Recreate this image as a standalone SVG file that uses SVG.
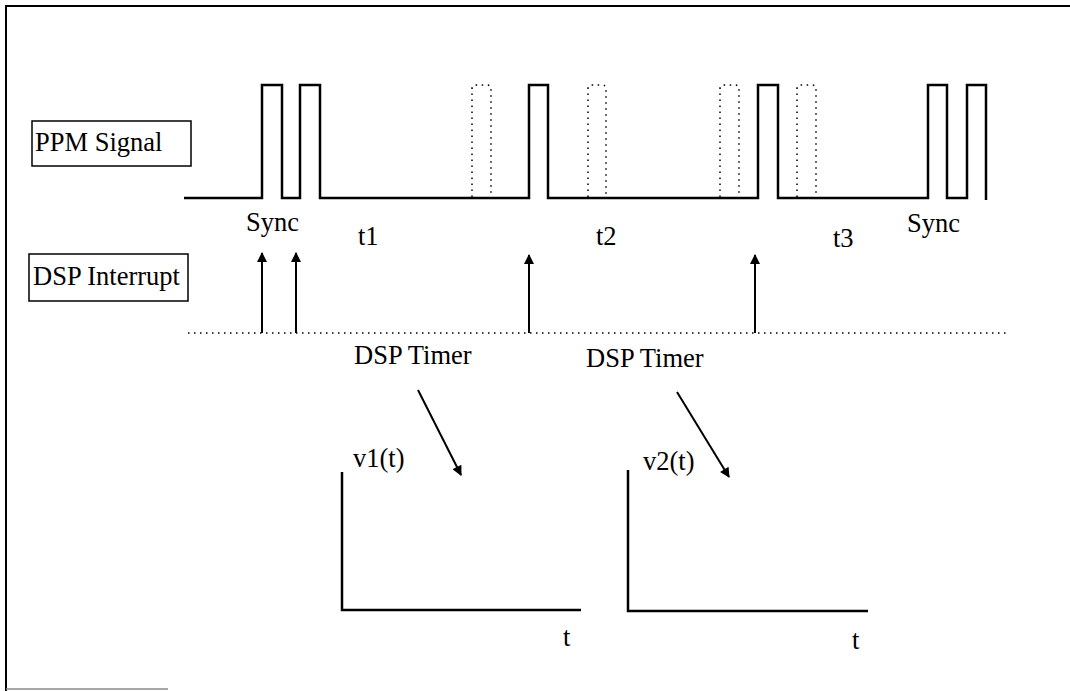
<svg xmlns="http://www.w3.org/2000/svg" width="1070" height="691" viewBox="0 0 1070 691">
<style>
.t{font-family:"Liberation Serif","Times New Roman",serif;font-size:26.5px;fill:#000}
.sig{fill:none;stroke:#000;stroke-width:2.5}
.dot{fill:none;stroke:#000;stroke-width:1.5;stroke-dasharray:1.5 4.5}
.box{fill:#fff;stroke:#000;stroke-width:1.5}
.ln{stroke:#000;stroke-width:2}
.ax{fill:none;stroke:#000;stroke-width:2.5}
</style>
<defs>
<marker id="ah" viewBox="0 0 10 10" refX="9" refY="5" markerWidth="6" markerHeight="5" orient="auto" markerUnits="strokeWidth">
<path d="M0,0 L10,5 L0,10 Z" fill="#000"/>
</marker>
</defs>
<rect width="1070" height="691" fill="#fff"/>
<g id="frame">
<path d="M6,691 V6 H1070" fill="none" stroke="#000" stroke-width="2"/>
<path d="M6,689 H168" fill="none" stroke="#888" stroke-width="1.5"/>
</g>
<g id="ppm-label">
<rect class="box" x="32" y="121" width="159" height="45"/>
<text class="t" x="35" y="151">PPM Signal</text>
</g>
<g id="dsp-label">
<rect class="box" x="29" y="254" width="159" height="47"/>
<text class="t" x="33" y="285">DSP Interrupt</text>
</g>
<g id="ppm-signal">
<path class="sig" d="M184,198 H262 V85 H282 V198 H300 V85 H320 V198 H529 V85 H548 V198 H758 V85 H778 V198 H928 V85 H947 V198 H967 V85 H986 V200"/>
<path class="dot" d="M472,197 V89 Q472,85 476,85 H487 Q491,85 491,89 V197"/>
<path class="dot" d="M588,197 V89 Q588,85 592,85 H602 Q606,85 606,89 V197"/>
<path class="dot" d="M720,197 V89 Q720,85 724,85 H735 Q739,85 739,89 V197"/>
<path class="dot" d="M797,197 V89 Q797,85 801,85 H812 Q816,85 816,89 V197"/>
</g>
<g id="labels">
<text class="t" x="246" y="231">Sync</text>
<text class="t" x="907" y="232">Sync</text>
<text class="t" x="358" y="245">t1</text>
<text class="t" x="596" y="245">t2</text>
<text class="t" x="833" y="247">t3</text>
</g>
<g id="timeline">
<line x1="188" y1="333" x2="1008" y2="333" class="dot"/>
</g>
<g id="connectors">
<line class="ln" x1="262" y1="333" x2="262" y2="253" marker-end="url(#ah)"/>
<line class="ln" x1="296" y1="333" x2="296" y2="253" marker-end="url(#ah)"/>
<line class="ln" x1="529" y1="333" x2="529" y2="255" marker-end="url(#ah)"/>
<line class="ln" x1="755" y1="333" x2="755" y2="255" marker-end="url(#ah)"/>
<line class="ln" x1="418" y1="390" x2="461" y2="475" marker-end="url(#ah)"/>
<line class="ln" x1="677" y1="392" x2="729" y2="477" marker-end="url(#ah)"/>
</g>
<g id="timer1">
<text class="t" x="354" y="364">DSP Timer</text>
<text class="t" x="353" y="467">v1(t)</text>
<path class="ax" d="M342,472 V610 H581"/>
<text class="t" x="563" y="646">t</text>
</g>
<g id="timer2">
<text class="t" x="586" y="367">DSP Timer</text>
<text class="t" x="643" y="470">v2(t)</text>
<path class="ax" d="M628,470 V611 H868"/>
<text class="t" x="852" y="649">t</text>
</g>
</svg>
